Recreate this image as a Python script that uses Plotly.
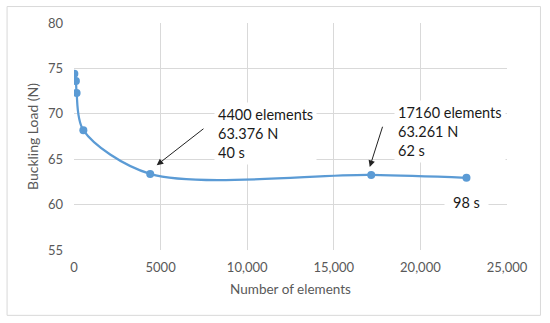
import plotly.graph_objects as go

elements = [20, 110, 150, 540, 4400, 17160, 22660]
buckling_load = [74.42, 73.6, 72.3, 68.2, 63.376, 63.261, 62.95]

x_tick_vals = [0, 5000, 10000, 15000, 20000, 25000]
x_tick_text = ["0", "5000", "10,000", "15,000", "20,000", "25,000"]
y_tick_vals = [55, 60, 65, 70, 75, 80]

label_1 = "4400 elements<br>63.376 N<br>40 s"
label_2 = "17160 elements<br>63.261 N<br>62 s"
label_3 = "98 s"

FONT = "Lato, 'Open Sans', sans-serif"
GRID = "#d9d9d9"
TXT = "#595959"

fig = go.Figure()
fig.add_trace(go.Scatter(
    x=elements, y=buckling_load, mode="lines+markers",
    line=dict(color="#5b9bd5", width=2.25, shape="spline", smoothing=0.9),
    marker=dict(color="#5b9bd5", size=8),
    showlegend=False, hoverinfo="skip"))

# arrows
fig.add_annotation(x=4775, y=64.34, ax=7561, ay=68.48, axref="x", ayref="y",
                   xref="x", yref="y", text="", showarrow=True,
                   arrowhead=2, arrowsize=1.3, arrowwidth=1, arrowcolor="#222222")
fig.add_annotation(x=17076, y=64.15, ax=17843, ay=68.74, axref="x", ayref="y",
                   xref="x", yref="y", text="", showarrow=True,
                   arrowhead=2, arrowsize=1.3, arrowwidth=1, arrowcolor="#222222")

# labels
fig.add_annotation(x=8100, y=67.85, xref="x", yref="y", text=label_1, showarrow=False,
                   xanchor="left", yanchor="middle", align="left",
                   bgcolor="white", borderpad=3,
                   font=dict(family=FONT, size=14.5, color="#1a1a1a"))
fig.add_annotation(x=18450, y=68.0, xref="x", yref="y", text=label_2, showarrow=False,
                   xanchor="left", yanchor="middle", align="left",
                   bgcolor="white", borderpad=3,
                   font=dict(family=FONT, size=14.5, color="#1a1a1a"))
fig.add_annotation(x=22640, y=60.2, xref="x", yref="y", text=label_3, showarrow=False,
                   xanchor="center", yanchor="middle",
                   bgcolor="white", borderpad=8,
                   font=dict(family=FONT, size=14.5, color="#1a1a1a"))

# outer chart border
fig.add_shape(type="rect", xref="paper", yref="paper",
              x0=(7 - 74) / 433.5, x1=(541 - 74) / 433.5,
              y0=(250 - 315.5) / 227.5, y1=(250 - 6) / 227.5,
              line=dict(color=GRID, width=1), layer="below")

fig.update_layout(
    width=550, height=323,
    margin=dict(l=74, r=42.5, t=22.5, b=73, autoexpand=False),
    paper_bgcolor="white", plot_bgcolor="white",
    font=dict(family=FONT, color=TXT, size=13),
    xaxis=dict(range=[0, 25000], tickvals=x_tick_vals, ticktext=x_tick_text,
               showgrid=True, gridcolor=GRID, gridwidth=1, zeroline=False,
               showline=False, ticks="", tickfont=dict(size=13, color=TXT),
               ticklabelstandoff=8, automargin=False,
               title=dict(text="Number of elements", font=dict(size=13.5, color=TXT), standoff=10)),
    yaxis=dict(range=[55, 80], tickvals=y_tick_vals,
               showgrid=True, gridcolor=GRID, gridwidth=1, zeroline=False,
               showline=False, ticks="", tickfont=dict(size=13, color=TXT),
               ticklabelstandoff=10, automargin=False,
               title=dict(text="Buckling Load (N)", font=dict(size=14, color=TXT), standoff=6)),
)

fig.write_html("out.html", config={"displayModeBar": False},
               post_script="document.body.style.margin='0';document.body.style.overflow='hidden';")
